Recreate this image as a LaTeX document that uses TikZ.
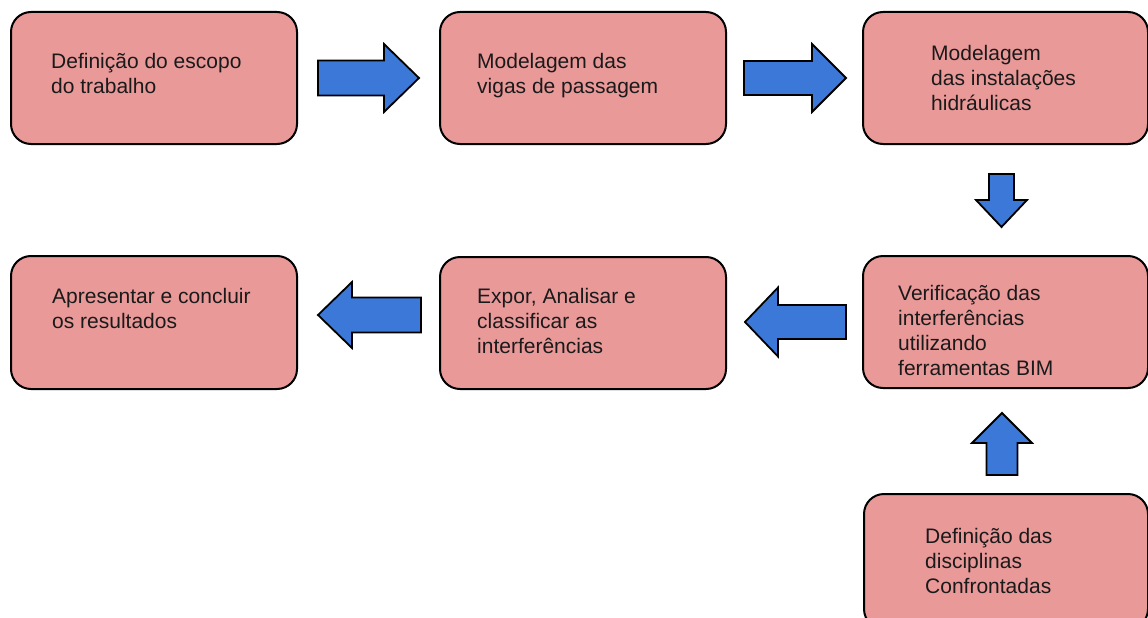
\documentclass[tikz,border=0pt]{standalone}
\usepackage{fontspec}
\setmainfont{Liberation Sans}
\usetikzlibrary{calc}

\definecolor{boxpink}{HTML}{EA9999}
\definecolor{arrowblue}{HTML}{3C78D8}
\definecolor{inktext}{HTML}{1A1A1A}

% block arrows: tail, tip, shaft half-width, head half-width, head length
\newcommand\harrow[5]{%
  \draw[blockarrow] let \p1=(#1), \p2=(#2), \n1={(\x2>\x1)?1:-1} in
    (\x1,\y1-#3) -- ({\x2-\n1*#5},\y1-#3) -- ({\x2-\n1*#5},\y1-#4) -- (\x2,\y1)
    -- ({\x2-\n1*#5},\y1+#4) -- ({\x2-\n1*#5},\y1+#3) -- (\x1,\y1+#3) -- cycle;}
\newcommand\varrow[5]{%
  \draw[blockarrow] let \p1=(#1), \p2=(#2), \n1={(\y2>\y1)?1:-1} in
    (\x1-#3,\y1) -- (\x1-#3,{\y2-\n1*#5}) -- (\x1-#4,{\y2-\n1*#5}) -- (\x1,\y2)
    -- (\x1+#4,{\y2-\n1*#5}) -- (\x1+#3,{\y2-\n1*#5}) -- (\x1+#3,\y1) -- cycle;}

\newcommand\boxlines[1]{\begin{tabular}[t]{@{}l@{}}#1\end{tabular}}

\tikzset{
  stepbox/.style={draw=black, fill=boxpink, line width=2pt, rounded corners=20pt,
    anchor=north west, inner sep=0pt},
  boxtext/.style={anchor=base west, inner sep=0pt, text=inktext,
    font=\fontsize{21}{25}\selectfont},
  blockarrow/.style={draw=black, fill=arrowblue, line width=1.8pt, line join=miter},
}

\begin{document}
\begin{tikzpicture}[x=1pt, y=-1pt]
  \useasboundingbox (0,0) rectangle (1148,618);
  \fill[white] (0,0) rectangle (1148,618);
  \clip (0,0) rectangle (1148,618);

  % process boxes
  \node[stepbox, minimum width=286pt, minimum height=132pt] (b1) at (10,11) {};
  \node[stepbox, minimum width=286pt, minimum height=132pt] (b2) at (439,11) {};
  \node[stepbox, minimum width=285pt, minimum height=132pt] (b3) at (862,11) {};
  \node[stepbox, minimum width=286pt, minimum height=133pt] (b4) at (10,255) {};
  \node[stepbox, minimum width=286pt, minimum height=132pt] (b5) at (439,256) {};
  \node[stepbox, minimum width=285pt, minimum height=132pt] (b6) at (862,255) {};
  \node[stepbox, minimum width=284pt, minimum height=135pt] (b7) at (863,493) {};

  % box labels
  \node[boxtext] (t1) at ($(b1.north west)+(41,57)$) {\boxlines{Definição do escopo\\do trabalho}};
  \node[boxtext] (t2) at ($(b2.north west)+(38,57)$) {\boxlines{Modelagem das\\vigas de passagem}};
  \node[boxtext] (t3) at ($(b3.north west)+(69,49)$) {\boxlines{Modelagem\\das instalações\\hidráulicas}};
  \node[boxtext] (t4) at ($(b4.north west)+(42,48)$) {\boxlines{Apresentar e concluir\\os resultados}};
  \node[boxtext] (t5) at ($(b5.north west)+(38,47)$) {\boxlines{Expor, Analisar e\\classificar as\\interferências}};
  \node[boxtext] (t6) at ($(b6.north west)+(36,45)$) {\boxlines{Verificação das\\interferências\\utilizando\\ferramentas BIM}};
  \node[boxtext] (t7) at ($(b7.north west)+(62,50)$) {\boxlines{Definição das\\disciplinas\\Confrontadas}};

  % arrow end points
  \coordinate (a1s) at ($(b1.east)+(20,0)$);
  \coordinate (a1e) at ($(b2.west)+(-20,0)$);
  \coordinate (a2s) at ($(b2.east)+(17,0)$);
  \coordinate (a2e) at ($(b3.west)+(-16,0)$);
  \coordinate (a3s) at ($(b3.south)+(-4,29)$);
  \coordinate (a3e) at ($(b6.north)+(-4,-28)$);
  \coordinate (a4s) at ($(b6.west)+(-16,0)$);
  \coordinate (a4e) at ($(b5.east)+(18,0)$);
  \coordinate (a5s) at ($(b5.west)+(-18,-8)$);
  \coordinate (a5e) at ($(b4.east)+(20,-8)$);
  \coordinate (a6s) at ($(b7.north)+(-4,-18)$);
  \coordinate (a6e) at ($(b6.south)+(-4,24)$);

  % flow arrows
  \harrow{a1s}{a1e}{17.5pt}{34pt}{35pt}
  \harrow{a2s}{a2e}{17pt}{34pt}{34pt}
  \varrow{a3s}{a3e}{12.5pt}{25.5pt}{27pt}
  \harrow{a4s}{a4e}{17pt}{34.5pt}{33pt}
  \harrow{a5s}{a5e}{17.5pt}{33pt}{34pt}
  \varrow{a6s}{a6e}{15.5pt}{30pt}{30pt}
\end{tikzpicture}
\end{document}
